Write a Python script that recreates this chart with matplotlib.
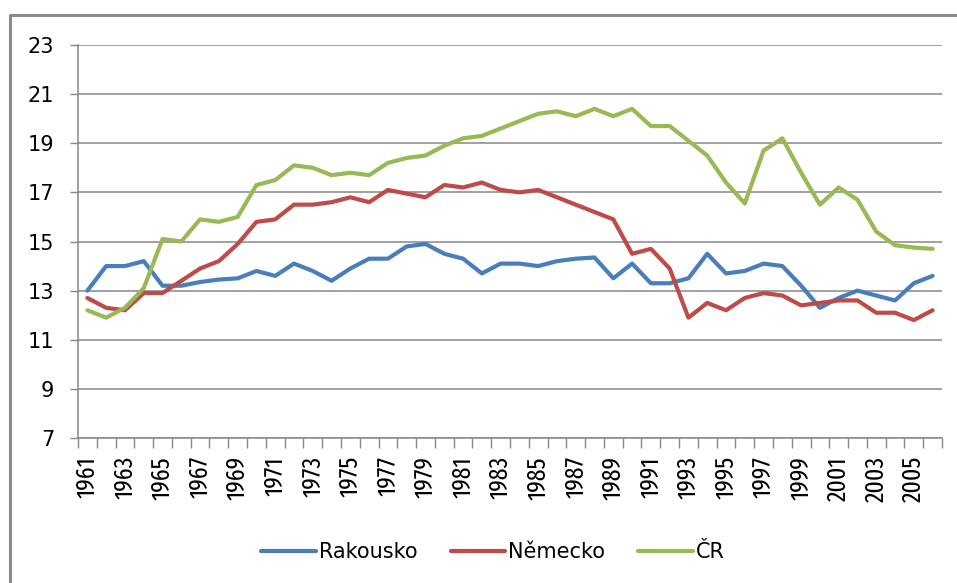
import matplotlib
matplotlib.use("Agg")
import matplotlib.pyplot as plt
from matplotlib import font_manager
from matplotlib.lines import Line2D

years = list(range(1961, 2007))
rakousko = [13.0, 14.0, 14.0, 14.2, 13.2, 13.2, 13.35, 13.45, 13.5, 13.8,
            13.6, 14.1, 13.8, 13.4, 13.9, 14.3, 14.3, 14.8, 14.9, 14.5,
            14.3, 13.7, 14.1, 14.1, 14.0, 14.2, 14.3, 14.35, 13.5, 14.1,
            13.3, 13.3, 13.5, 14.5, 13.7, 13.8, 14.1, 14.0, 13.2, 12.3,
            12.7, 13.0, 12.8, 12.6, 13.3, 13.6]
nemecko = [12.7, 12.3, 12.2, 12.9, 12.9, 13.4, 13.9, 14.2, 14.9, 15.8,
           15.9, 16.5, 16.5, 16.6, 16.8, 16.6, 17.1, 16.95, 16.8, 17.3,
           17.2, 17.4, 17.1, 17.0, 17.1, 16.8, 16.5, 16.2, 15.9, 14.5,
           14.7, 13.9, 11.9, 12.5, 12.2, 12.7, 12.9, 12.8, 12.4, 12.5,
           12.6, 12.6, 12.1, 12.1, 11.8, 12.2]
cr = [12.2, 11.9, 12.3, 13.1, 15.1, 15.0, 15.9, 15.8, 16.0, 17.3,
      17.5, 18.1, 18.0, 17.7, 17.8, 17.7, 18.2, 18.4, 18.5, 18.9,
      19.2, 19.3, 19.6, 19.9, 20.2, 20.3, 20.1, 20.4, 20.1, 20.4,
      19.7, 19.7, 19.1, 18.5, 17.4, 16.55, 18.7, 19.2, 17.8, 16.5,
      17.2, 16.7, 15.4, 14.85, 14.75, 14.7]
series = [("Rakousko", rakousko, "#4A7EBB"),
          ("Německo", nemecko, "#BE4B48"),
          ("ČR", cr, "#98B954")]
yticks = list(range(7, 24, 2))

# narrow font for the year labels, whichever one is around
installed = {f.name for f in font_manager.fontManager.ttflist}
xfont, xsize = "DejaVu Sans", 12
for name, size in [("Liberation Sans Narrow", 16), ("Fira Sans Extra Condensed", 18.5),
                   ("IBM Plex Sans Condensed", 15.5)]:
    if name in installed:
        xfont, xsize = name, size
        break

fig = plt.figure(figsize=(9.57, 5.83), dpi=100)
ax = fig.add_axes([78 / 957, 1 - 438 / 583, (942 - 78) / 957, (438 - 45) / 583])

idx = list(range(len(years)))
for name, vals, col in series:
    ax.plot(idx, vals, color=col, lw=3, label=name, solid_joinstyle="round",
            solid_capstyle="round")

ax.set_ylim(7, 23)
ax.set_xlim(-0.5, len(years) - 0.5)
ax.set_yticks(yticks)
ax.set_yticklabels([str(v) for v in yticks], fontsize=15, family="DejaVu Sans")
ax.yaxis.grid(True, color="#878787", lw=1.1)
ax.set_axisbelow(True)

# tick marks between categories, labels on every other year
ax.set_xticks([i - 0.5 for i in range(len(years) + 1)])
ax.set_xticklabels([])
ax.set_xticks(idx[::2], minor=True)
ax.set_xticklabels([str(y) for y in years[::2]], minor=True, rotation=90,
                   fontsize=xsize, family=xfont)
ax.tick_params(axis="x", which="major", length=7, color="#878787", width=1)
ax.tick_params(axis="x", which="minor", length=0, pad=13)
ax.tick_params(axis="y", length=6, color="#878787", width=1, pad=11)

for s in ["top", "right"]:
    ax.spines[s].set_visible(False)
for s in ["left", "bottom"]:
    ax.spines[s].set_color("#878787")
    ax.spines[s].set_linewidth(1.1)

fig.legend(loc="center", bbox_to_anchor=(493 / 957, 1 - 552 / 583), ncol=3,
           frameon=False, handlelength=2.6, handletextpad=0.15,
           columnspacing=1.6, prop={"family": "DejaVu Sans", "size": 15})

# outer chart border (left and top visible)
fig.add_artist(Line2D([10 / 957, 10 / 957, 1.0], [0.0, 1 - 15 / 583, 1 - 15 / 583],
                      transform=fig.transFigure, color="#8A8A8A", lw=2.2))

fig.savefig("out.png", dpi=100)
